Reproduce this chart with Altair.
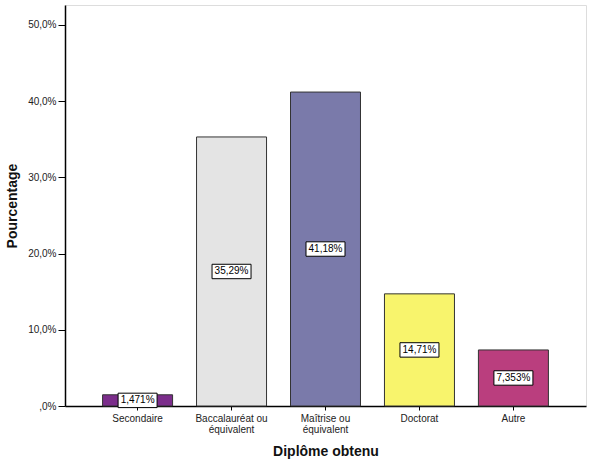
import altair as alt
import pandas as pd

# Distribution of highest diploma obtained (percent of respondents)
categories = ["Secondaire", "Baccalauréat ou équivalent", "Maîtrise ou équivalent", "Doctorat", "Autre"]
percentages = [1.471, 35.29, 41.18, 14.71, 7.353]
value_labels = ["1,471%", "35,29%", "41,18%", "14,71%", "7,353%"]
bar_colors = ["#7B2D8B", "#E4E4E4", "#7A7AAA", "#F8F46C", "#BA3E7E"]

df = pd.DataFrame({
    "diplome": categories,
    "pct": percentages,
    "mid": [p / 2 for p in percentages],
    "label": value_labels,
})

font = "Liberation Sans"

x_enc = alt.X(
    "diplome:N",
    sort=categories,
    scale=alt.Scale(paddingInner=0.255, paddingOuter=0.4),
    axis=alt.Axis(
        title="Diplôme obtenu",
        titleFont=font, titleFontSize=14, titleFontWeight="bold", titleColor="#111",
        titlePadding=10,
        labelAngle=0, labelFont=font, labelFontSize=10, labelColor="#222",
        labelLineHeight=11, labelPadding=3,
        labelExpr="indexof(datum.label, ' ou ') > 0 ? [slice(datum.label, 0, indexof(datum.label, ' ou ') + 3), slice(datum.label, indexof(datum.label, ' ou ') + 4)] : datum.label",
        tickSize=4, tickColor="#000", domainColor="#000", domainWidth=1.5,
    ),
)

y_scale = alt.Scale(domain=[0, 52.6], nice=False)

bars = alt.Chart(df).mark_bar(stroke="#333", strokeWidth=1).encode(
    x=x_enc,
    y=alt.Y(
        "pct:Q",
        scale=y_scale,
        axis=alt.Axis(
            title="Pourcentage",
            titleFont=font, titleFontSize=14, titleFontWeight="bold", titleColor="#111",
            titlePadding=8,
            values=[0, 10, 20, 30, 40, 50],
            labelExpr="datum.value == 0 ? ',0%' : replace(format(datum.value, '.1f'), '.', ',') + '%'",
            labelFont=font, labelFontSize=10, labelColor="#222", labelPadding=2,
            tickSize=7, tickColor="#000", domainColor="#000", domainWidth=1.5,
            grid=False,
        ),
    ),
    color=alt.Color("diplome:N", scale=alt.Scale(domain=categories, range=bar_colors), legend=None),
)

# White boxed value labels at each bar's mid-height
boxes = alt.Chart(df).mark_point(
    shape="M-1,-0.37L1,-0.37L1,0.37L-1,0.37Z",
    size=1521, filled=True, fill="white", stroke="#000", strokeWidth=1, opacity=1,
).encode(
    x=alt.X("diplome:N", sort=categories),
    y=alt.Y("mid:Q", scale=y_scale),
)

texts = alt.Chart(df).mark_text(font=font, fontSize=10, color="#000").encode(
    x=alt.X("diplome:N", sort=categories),
    y=alt.Y("mid:Q", scale=y_scale),
    text="label:N",
)

chart = (bars + boxes + texts).properties(
    width=521, height=401,
    autosize=alt.AutoSizeParams(type="none"),
    padding={"left": 65, "top": 5, "right": 3, "bottom": 53},
).configure_view(stroke="#555", strokeWidth=1.5).configure(background="white")

chart.save("out.html", embed_options={"renderer": "svg", "actions": False})
